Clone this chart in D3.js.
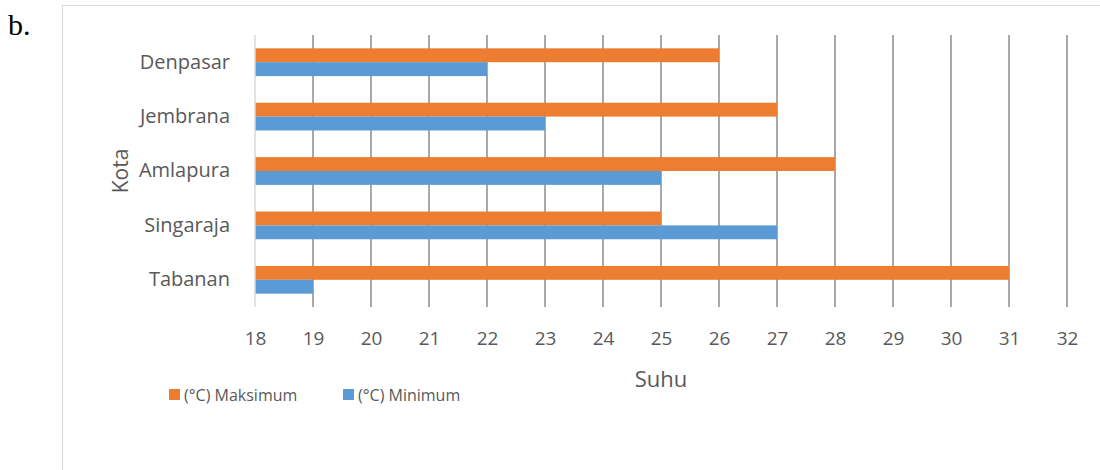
<!DOCTYPE html>
<html>
<head>
<meta charset="utf-8">
<script src="https://cdn.jsdelivr.net/npm/d3@7"></script>
<style>
  body { margin: 0; background: #fff; }
  svg { display: block; font-family: "Open Sans", "Liberation Sans", sans-serif; }
</style>
</head>
<body>
<svg width="1100" height="470"></svg>
<script>
var cities = ["Denpasar", "Jembrana", "Amlapura", "Singaraja", "Tabanan"];
var maksimum = [26, 27, 28, 25, 31];
var minimum = [22, 23, 25, 27, 19];
var xTicks = [18, 19, 20, 21, 22, 23, 24, 25, 26, 27, 28, 29, 30, 31, 32];
var seriesNames = ["(°C) Maksimum", "(°C) Minimum"];
var colors = ["#ed7d31", "#5b9bd5"];

var svg = d3.select("svg"),
    margin = { top: 35, right: 33, bottom: 163, left: 255 },
    width = +svg.attr("width") - margin.left - margin.right,
    height = +svg.attr("height") - margin.top - margin.bottom;

// chart frame
svg.append("rect")
    .attr("x", 62.5).attr("y", 5.5)
    .attr("width", 1100).attr("height", 500)
    .attr("fill", "none").attr("stroke", "#d9d9d9");

svg.append("text")
    .attr("x", 8).attr("y", 35)
    .attr("font-family", "Liberation Serif, serif")
    .attr("font-size", 30)
    .attr("fill", "#000")
    .text("b.");

var g = svg.append("g").attr("transform", "translate(" + margin.left + "," + margin.top + ")");

var x = d3.scaleLinear().domain([18, 32]).range([0, width]);
var y = d3.scaleBand().domain(cities).range([0, height]).paddingInner(0.49).paddingOuter(0.245);
var y1 = d3.scaleBand().domain([0, 1]).range([0, y.bandwidth()]);

// gridlines
g.selectAll(".grid")
    .data(xTicks.slice(1))
    .enter().append("line")
    .attr("x1", function(d) { return x(d); })
    .attr("x2", function(d) { return x(d); })
    .attr("y1", 0).attr("y2", height)
    .attr("stroke", "#8c8c8c").attr("stroke-width", 1.5);

// bars
var rows = cities.map(function(c, i) { return { city: c, vals: [maksimum[i], minimum[i]] }; });
var grp = g.selectAll(".row").data(rows).enter().append("g")
    .attr("transform", function(d) { return "translate(0," + y(d.city) + ")"; });
grp.selectAll("rect")
    .data(function(d) { return d.vals; })
    .enter().append("rect")
    .attr("x", x(18))
    .attr("y", function(d, i) { return y1(i); })
    .attr("width", function(d) { return x(d) - x(18); })
    .attr("height", y1.bandwidth())
    .attr("fill", function(d, i) { return colors[i]; });

// left axis line
g.append("line")
    .attr("x1", 0).attr("x2", 0).attr("y1", 0).attr("y2", height)
    .attr("stroke", "#d9d9d9").attr("stroke-width", 1.5);

// x axis labels
var xAxis = g.append("g")
    .attr("transform", "translate(0," + height + ")")
    .call(d3.axisBottom(x).tickValues(xTicks).tickSize(0).tickPadding(25));
xAxis.select(".domain").remove();
xAxis.selectAll("text").attr("font-size", 19).attr("fill", "#595959")
    .attr("font-family", "Open Sans, sans-serif");

// y axis labels
var yAxis = g.append("g")
    .call(d3.axisLeft(y).tickSize(0).tickPadding(25));
yAxis.select(".domain").remove();
yAxis.selectAll("text").attr("font-size", 20).attr("fill", "#595959")
    .attr("font-family", "Open Sans, sans-serif");

// axis titles
svg.append("text")
    .attr("transform", "translate(128," + (margin.top + height / 2) + ") rotate(-90)")
    .attr("text-anchor", "middle")
    .attr("font-size", 21).attr("fill", "#595959")
    .text("Kota");
svg.append("text")
    .attr("x", margin.left + width / 2).attr("y", 387)
    .attr("text-anchor", "middle")
    .attr("font-size", 22).attr("fill", "#595959")
    .text("Suhu");

// legend
var legX = [169, 343];
var leg = svg.selectAll(".leg").data(seriesNames).enter().append("g")
    .attr("transform", function(d, i) { return "translate(" + legX[i] + ",389)"; });
leg.append("rect").attr("width", 11).attr("height", 11)
    .attr("fill", function(d, i) { return colors[i]; });
leg.append("text").attr("x", 15).attr("y", 12)
    .attr("font-size", 16).attr("fill", "#595959")
    .text(function(d) { return d; });
</script>
</body>
</html>
